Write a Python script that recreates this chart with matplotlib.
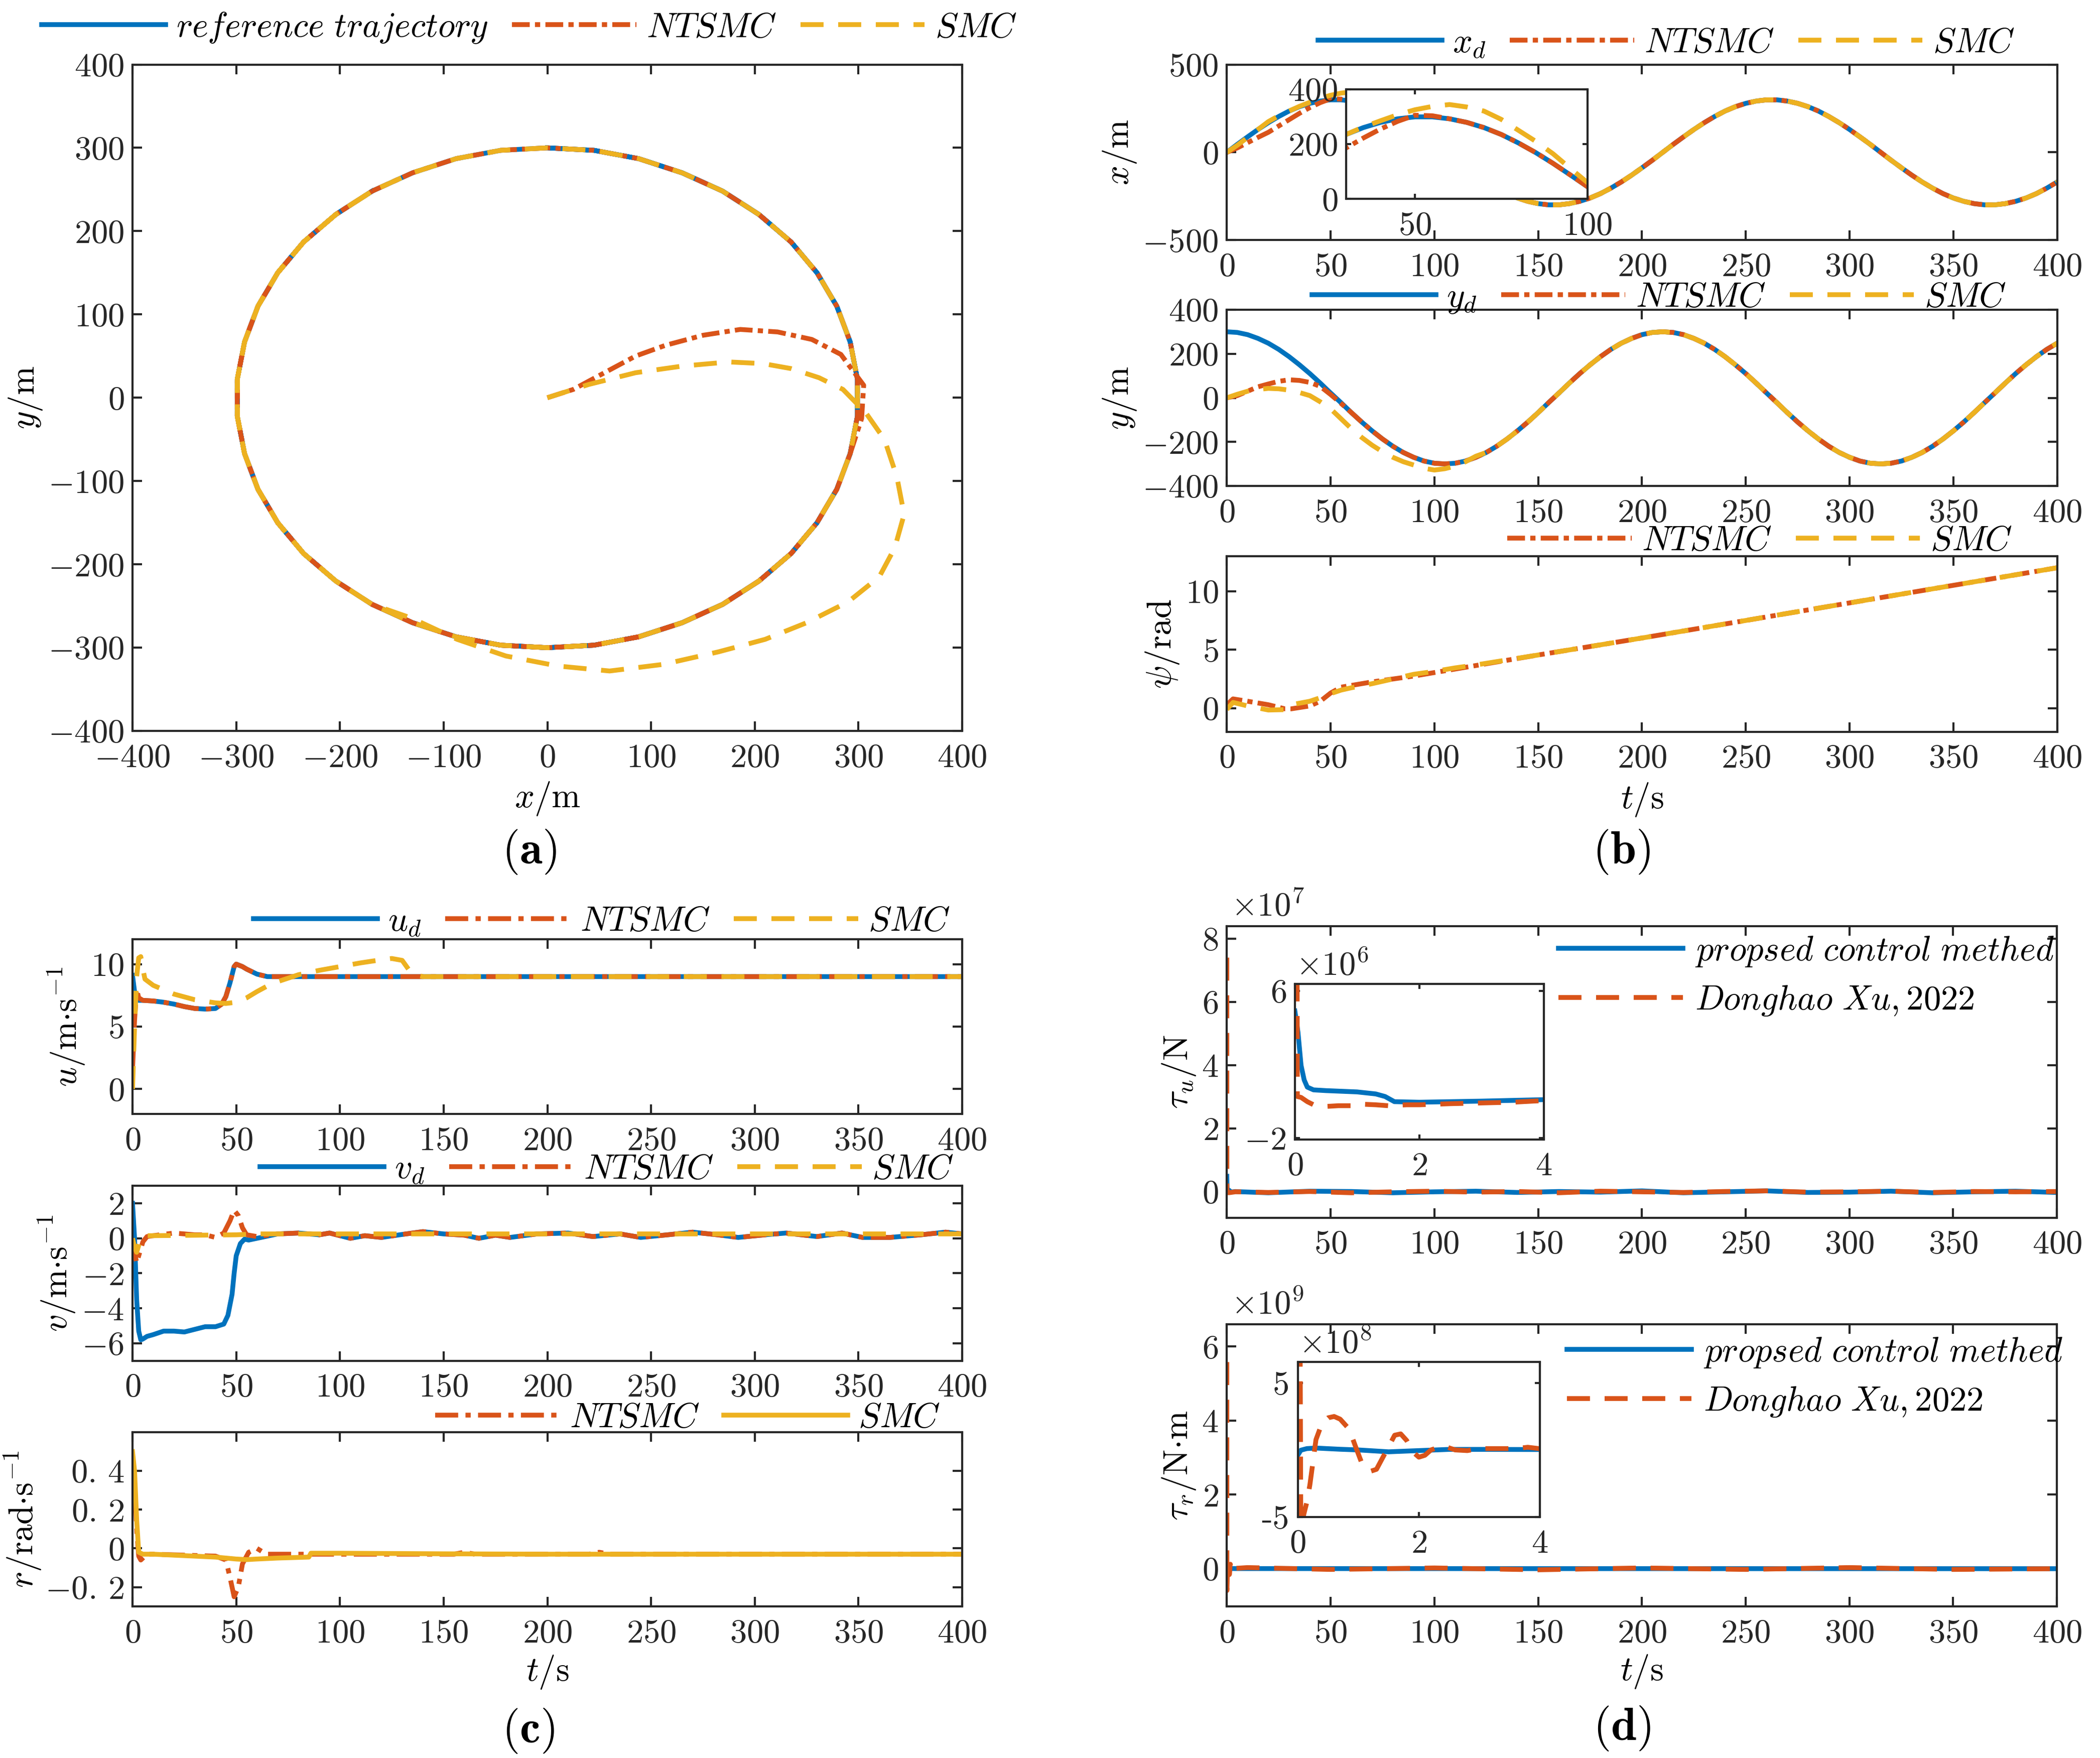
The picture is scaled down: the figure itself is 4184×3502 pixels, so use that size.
import numpy as np
import matplotlib
matplotlib.use('Agg')
import matplotlib.pyplot as plt
from matplotlib.ticker import FuncFormatter
from matplotlib.lines import Line2D

plt.rcParams['font.family'] = 'serif'
plt.rcParams['font.serif'] = ['cmr10']
plt.rcParams['mathtext.fontset'] = 'cm'
plt.rcParams['axes.formatter.use_mathtext'] = True
plt.rcParams['lines.scale_dashes'] = False
plt.rcParams['font.size'] = 16

BLUE, ORANGE, YELLOW = '#0072BD', '#D95319', '#EDB120'
DARK = '#262626'
DASH = (0, (11, 7))
DASHDOT = (0, (8.5, 2.5, 2.5, 2.5))
DASHDOT_C = (0, (11, 3.5, 2.5, 3.5))
LW = 2.3
FS = 16.5

# ---------------- trajectory data, read every 5 s ----------------
t5 = list(range(0, 405, 5))
x_d = [0, 45, 88, 130, 169, 204, 235, 260, 279, 292, 299, 299, 292, 279, 260, 235, 204, 169, 130, 88, 45,
       0, -45, -88, -130, -169, -204, -235, -260, -279, -292, -299, -299, -292, -279, -260, -235, -204, -169, -130, -88, -45,
       0, 45, 88, 130, 169, 204, 235, 260, 279, 292, 299, 299, 292, 279, 260, 235, 204, 169, 130, 88, 45,
       0, -45, -88, -130, -169, -204, -235, -260, -279, -292, -299, -299, -292, -279, -260, -235, -204, -169]
y_d = [300, 297, 287, 270, 248, 220, 187, 150, 110, 67, 22, -22, -67, -110, -150, -187, -220, -248, -270, -287, -297,
       -300, -297, -287, -270, -248, -220, -187, -150, -110, -67, -22, 22, 67, 110, 150, 187, 220, 248, 270, 287, 297,
       300, 297, 287, 270, 248, 220, 187, 150, 110, 67, 22, -22, -67, -110, -150, -187, -220, -248, -270, -287, -297,
       -300, -297, -287, -270, -248, -220, -187, -150, -110, -67, -22, 22, 67, 110, 150, 187, 220, 248]

# NTSMC transient up to t=55 s, then on the reference
x_nt = [0, 25, 55, 85, 114, 150, 186, 222, 255, 283, 305, 303] + x_d[12:]
y_nt = [0, 10, 30, 50, 63, 75, 82, 79, 70, 52, 15, -25] + y_d[12:]
# SMC transient up to t=125 s, then on the reference
x_smc = [0, 40, 85, 130, 175, 208, 235, 262, 285, 307, 325, 337, 344, 335, 320, 290, 250, 210, 165, 112,
         60, 10, -40, -87, -130, -169] + x_d[26:]
y_smc = [0, 16, 30, 38, 43, 41, 35, 24, 10, -18, -50, -95, -140, -180, -215, -245, -270, -290, -305, -320,
         -328, -322, -310, -290, -265, -248] + y_d[26:]

# heading
psi_t = [0, 3, 10, 20, 28, 31, 40, 45, 50, 55, 60, 70, 80, 90, 100, 110, 120, 150, 200, 250, 300, 350, 400]
psi_nt = [0.3, 0.8, 0.6, 0.3, -0.05, -0.05, 0.2, 0.6, 1.3, 1.8, 1.95, 2.25, 2.5, 2.75, 3.05, 3.35, 3.65,
          4.55, 6.0, 7.5, 9.0, 10.5, 12.0]
psi_smc = [-0.1, 0.5, 0.2, -0.15, -0.12, 0.3, 0.6, 0.9, 1.25, 1.55, 1.75, 2.1, 2.5, 2.9, 3.15, 3.45, 3.7,
           4.55, 6.0, 7.5, 9.0, 10.5, 12.0]

# surge speed u
u_t = [0, 1, 2, 3, 5, 10, 15, 20, 25, 30, 35, 40, 43, 45, 47, 49, 50, 53, 55, 60, 65, 70, 400]
u_d = [9.1, 7.8, 7.2, 7.1, 7.1, 7.05, 6.95, 6.8, 6.6, 6.45, 6.4, 6.45, 6.8, 7.4, 8.5, 9.8, 10.0, 9.8, 9.6,
       9.2, 9.0, 9.0, 9.0]
u_nt = [1.5, 5.5, 8.0, 7.3, 7.1, 7.05, 6.95, 6.8, 6.6, 6.45, 6.4, 6.45, 6.8, 7.4, 8.5, 9.8, 10.0, 9.8, 9.6,
        9.2, 9.0, 9.0, 9.0]
u_smc_t = [0, 1, 2, 3, 4, 5, 6, 10, 20, 30, 40, 45, 50, 55, 60, 65, 70, 80, 90, 100, 110, 120, 125, 130,
           133, 135, 140, 400]
u_smc = [0.0, 5.0, 9.0, 10.5, 10.6, 9.6, 8.8, 8.3, 7.6, 7.15, 6.9, 6.85, 6.95, 7.3, 7.8, 8.25, 8.6, 9.15,
         9.5, 9.8, 10.1, 10.35, 10.45, 10.3, 9.6, 9.2, 9.0, 9.0]

# sway speed v
v_t = [0, 1, 2, 3, 4, 5, 7, 10, 15, 20, 25, 30, 35, 40, 44, 46, 48, 49, 50, 52, 54, 56, 60, 70, 80, 90, 95,
       105, 112, 120, 130, 140, 150, 160, 167, 175, 182, 195, 210, 222, 235, 245, 258, 270, 282, 292, 305,
       315, 330, 342, 352, 365, 380, 392, 400]
v_d = [2.0, 0.0, -3.5, -5.3, -5.8, -5.75, -5.6, -5.5, -5.3, -5.3, -5.35, -5.2, -5.05, -5.05, -4.9, -4.4,
       -3.2, -2.0, -1.0, -0.3, -0.05, -0.1, 0.0, 0.25, 0.3, 0.2, 0.3, 0.0, 0.15, 0.05, 0.22, 0.38, 0.25,
       0.18, 0.0, 0.18, 0.05, 0.25, 0.3, 0.1, 0.25, 0.05, 0.2, 0.35, 0.2, 0.05, 0.2, 0.3, 0.1, 0.3, 0.05,
       0.05, 0.2, 0.35, 0.25]
v_nt_t = [0, 1, 2, 3, 5, 7, 10, 20, 30, 35, 40, 44, 47, 49, 51, 53, 55, 60] + v_t[23:]
v_nt = [0.0, -0.8, -1.4, -1.0, -0.2, 0.1, 0.15, 0.3, 0.2, 0.2, 0.05, 0.3, 1.0, 1.6, 1.3, 0.6, 0.2,
        0.1] + v_d[23:]
v_smc_t = [0, 1, 2, 3, 4, 5, 10, 50, 60, 400]
v_smc = [0.0, -0.5, -0.8, -0.4, 0.05, 0.15, 0.15, 0.2, 0.25, 0.25]

# yaw rate r
r_smc_t = [0, 1, 2, 3, 5, 10, 20, 30, 40, 50, 55, 60, 70, 85, 86, 100, 150, 200, 300, 400]
r_smc = [0.5, 0.4, 0.15, -0.02, -0.03, -0.03, -0.035, -0.04, -0.045, -0.055, -0.058, -0.055, -0.05,
         -0.045, -0.025, -0.025, -0.028, -0.03, -0.03, -0.03]
r_nt_t = [0, 1, 2, 3, 4, 5, 7, 10, 40, 45, 47, 49, 51, 53, 56, 60, 63, 65, 100, 155, 160, 165, 220, 225,
          230, 400]
r_nt = [0.48, 0.35, 0.1, -0.04, -0.06, -0.05, -0.03, -0.03, -0.04, -0.06, -0.15, -0.25, -0.2, -0.08,
        -0.02, 0.0, -0.02, -0.03, -0.03, -0.03, -0.02, -0.03, -0.03, -0.02, -0.03, -0.03]

# control forces, tau_u in 1e6 N, tau_r in 1e8 N*m
tail_t = list(range(20, 401, 20))
tu_b_t = [0, 0.05, 0.1, 0.15, 0.2, 0.3, 0.5, 1.0, 1.3, 1.45, 1.6, 2.0, 3.0, 4.0] + tail_t
tu_b = [4.9, 3.75, 1.94, 1.15, 0.76, 0.61, 0.57, 0.5, 0.39, 0.25, -0.03, -0.06, 0.0, 0.08,
        -0.3, 0.2, 0.1, -0.3, 0.0, 0.2, -0.2, 0.1, -0.1, 0.3, -0.3, 0.0, 0.3, -0.2, -0.1, 0.2, -0.3,
        0.0, 0.2, -0.2]
tu_o_t = [0, 0.04, 0.1, 0.2, 0.3, 0.5, 0.7, 0.9, 1.1, 1.3, 1.5, 1.8, 2.0, 2.5, 3.0, 3.5, 4.0] + tail_t
tu_o = [74.0, 0.25, 0.2, -0.03, -0.2, -0.29, -0.25, -0.25, -0.17, -0.2, -0.25, -0.2, -0.2, -0.14, -0.1,
        -0.06, 0.03,
        -0.2, 0.1, -0.3, 0.0, 0.2, -0.1, 0.1, -0.3, 0.2, 0.0, -0.2, 0.1, 0.3, -0.1, 0.0, 0.2, -0.2, 0.1,
        0.0, 0.1]
tr_b_t = [0, 0.05, 0.15, 0.3, 0.7, 1.0, 1.5, 2.0, 2.5, 3.0, 4.0, 400]
tr_b = [-0.4, -0.02, 0.1, 0.14, 0.05, 0.0, -0.14, -0.05, 0.04, 0.04, 0.03, 0.0]
tr_o_t = [0, 0.05, 0.1, 0.15, 0.2, 0.3, 0.4, 0.5, 0.6, 0.7, 0.85, 0.95, 1.05, 1.2, 1.3, 1.4, 1.5, 1.6,
          1.7, 1.8, 1.9, 2.0, 2.1, 2.2, 2.4, 2.6, 2.8, 3.0, 3.3, 3.6, 3.8, 4.0,
          10, 50, 100, 150, 200, 250, 300, 350, 400]
tr_o = [55.8, -5.9, -4.8, -3.9, -2.6, 0.77, 2.0, 2.4, 2.5, 2.3, 1.55, 0.3, -0.9, -1.6, -1.45, -0.6, 0.24,
        1.1, 1.2, 0.7, -0.15, -0.54, -0.4, 0.0, 0.3, 0.0, -0.05, 0.1, 0.1, 0.1, 0.2, 0.09,
        0.3, -0.2, 0.2, -0.3, 0.2, -0.2, 0.3, -0.2, 0.0]

fig = plt.figure(figsize=(4184 / 300, 3502 / 300), dpi=300)


def style(ax, tl=4.5):
    ax.tick_params(direction='in', length=tl, width=1.0, top=True, right=True,
                   labelsize=16, colors=DARK, labelcolor=DARK)
    ax.tick_params(axis='x', pad=6)
    ax.tick_params(axis='y', pad=4)
    for s in ax.spines.values():
        s.set_linewidth(1.0)
        s.set_color(DARK)


def top_legend(handles, labels, xy):
    fig.legend(handles, labels, loc='center', bbox_to_anchor=xy, ncol=len(labels), frameon=False,
               handlelength=3.6, handletextpad=0.3, columnspacing=0.7, borderpad=0, fontsize=FS)


def tline(ax, t, v, c, ls='-'):
    return ax.plot(t, v, color=c, lw=LW, linestyle=ls)[0]


def panel_tag(x, y, s):
    fig.text(x, y, r'$\mathbf{(' + s + ')}$', ha='center', va='center', fontsize=22, color='black')


tgrid = list(range(0, 401, 50))

# ---------------- (a) ----------------
ax = fig.add_axes([0.0631, 0.5842, 0.3951, 0.3791])
h1 = tline(ax, x_d, y_d, BLUE)
h2 = tline(ax, x_nt, y_nt, ORANGE, DASHDOT)
h3 = tline(ax, x_smc, y_smc, YELLOW, DASH)
ax.set_xlim(-400, 400)
ax.set_ylim(-400, 400)
ax.set_xticks(range(-400, 401, 100))
ax.set_yticks(range(-400, 401, 100))
style(ax)
ax.set_ylabel(r'$y/\mathrm{m}$', fontsize=FS, labelpad=2)
fig.text(0.2607, 0.5457, r'$x/\mathrm{m}$', ha='center', va='center', fontsize=FS)
top_legend([h1, h2, h3], [r'$reference\ trajectory$', r'$NTSMC$', r'$SMC$'], (0.252, 0.984))
panel_tag(0.252, 0.5154, 'a')

# ---------------- (b) ----------------
bl, bw = 0.5842, 0.3954
ax = fig.add_axes([bl, 0.8634, bw, 0.0999])
h1 = tline(ax, t5, x_d, BLUE)
h2 = tline(ax, t5, x_nt, ORANGE, DASHDOT)
h3 = tline(ax, t5, x_smc, YELLOW, DASH)
ax.set_xlim(0, 400)
ax.set_ylim(-500, 500)
ax.set_xticks(tgrid)
ax.set_yticks([-500, 0, 500])
style(ax)
ax.set_ylabel(r'$x/\mathrm{m}$', fontsize=FS, labelpad=2)
top_legend([h1, h2, h3], [r'$x_d$', r'$NTSMC$', r'$SMC$'], (0.7935, 0.975))

axi = fig.add_axes([0.641, 0.8868, 0.1149, 0.0625])
tline(axi, t5, x_d, BLUE)
tline(axi, t5, x_nt, ORANGE, DASHDOT)
tline(axi, t5, x_smc, YELLOW, DASH)
axi.set_xlim(30, 100)
axi.set_ylim(0, 400)
axi.set_xticks([50, 100])
axi.set_yticks([0, 200, 400])
style(axi, tl=2.5)

ax = fig.add_axes([bl, 0.7236, bw, 0.1002])
h1 = tline(ax, t5, y_d, BLUE)
h2 = tline(ax, t5, y_nt, ORANGE, DASHDOT)
h3 = tline(ax, t5, y_smc, YELLOW, DASH)
ax.set_xlim(0, 400)
ax.set_ylim(-400, 400)
ax.set_xticks(tgrid)
ax.set_yticks([-400, -200, 0, 200, 400])
style(ax)
ax.set_ylabel(r'$y/\mathrm{m}$', fontsize=FS, labelpad=2)
top_legend([h1, h2, h3], [r'$y_d$', r'$NTSMC$', r'$SMC$'], (0.790, 0.830))

ax = fig.add_axes([bl, 0.5838, bw, 0.0999])
h2 = tline(ax, psi_t, psi_nt, ORANGE, DASHDOT)
h3 = tline(ax, psi_t, psi_smc, YELLOW, DASH)
ax.set_xlim(0, 400)
ax.set_ylim(-2, 13)
ax.set_xticks(tgrid)
ax.set_yticks([0, 5, 10])
style(ax)
ax.set_ylabel(r'$\psi/\mathrm{rad}$', fontsize=FS, labelpad=2)
top_legend([h2, h3], [r'$NTSMC$', r'$SMC$'], (0.838, 0.692))
fig.text(bl + bw / 2, 0.545, r'$t/\mathrm{s}$', ha='center', va='center', fontsize=FS)
panel_tag(0.7722, 0.5154, 'b')

# ---------------- (c) ----------------
cl, cw = 0.0631, 0.3951
ax = fig.add_axes([cl, 0.3663, cw, 0.0995])
h1 = tline(ax, u_t, u_d, BLUE)
h2 = tline(ax, u_t, u_nt, ORANGE, DASHDOT_C)
h3 = tline(ax, u_smc_t, u_smc, YELLOW, DASH)
ax.set_xlim(0, 400)
ax.set_ylim(-2, 12)
ax.set_xticks(tgrid)
ax.set_yticks([0, 5, 10])
style(ax)
ax.set_ylabel(r'$u/\mathrm{m{\cdot}s^{-1}}$', fontsize=FS, labelpad=2)
top_legend([h1, h2, h3], [r'$u_d$', r'$NTSMC$', r'$SMC$'], (0.2866, 0.4754))

ax = fig.add_axes([cl, 0.2259, cw, 0.0996])
h1 = tline(ax, v_t, v_d, BLUE)
h2 = tline(ax, v_nt_t, v_nt, ORANGE, DASHDOT_C)
h3 = tline(ax, v_smc_t, v_smc, YELLOW, DASH)
ax.set_xlim(0, 400)
ax.set_ylim(-7, 3)
ax.set_xticks(tgrid)
ax.set_yticks([-6, -4, -2, 0, 2])
style(ax)
ax.set_ylabel(r'$v/\mathrm{m{\cdot}s^{-1}}$', fontsize=FS, labelpad=2)
top_legend([h1, h2, h3], [r'$v_d$', r'$NTSMC$', r'$SMC$'], (0.289, 0.3344))


def r_fmt(v, pos):
    s = f'{v:.1f}'
    if s in ('0.0', '-0.0'):
        return r'$\mathdefault{0}$'
    return r'$\mathdefault{' + s.replace('.', r'.\,') + '}$'


ax = fig.add_axes([cl, 0.0862, cw, 0.0991])
h2 = tline(ax, r_nt_t, r_nt, ORANGE, DASHDOT_C)
h3 = tline(ax, r_smc_t, r_smc, YELLOW)
ax.set_xlim(0, 400)
ax.set_ylim(-0.3, 0.6)
ax.set_xticks(tgrid)
ax.set_yticks([-0.2, 0, 0.2, 0.4])
ax.yaxis.set_major_formatter(FuncFormatter(r_fmt))
style(ax)
ax.set_ylabel(r'$r/\mathrm{rad{\cdot}s^{-1}}$', fontsize=FS, labelpad=1)
top_legend([h2, h3], [r'$NTSMC$', r'$SMC$'], (0.3274, 0.1933))
fig.text(cl + cw / 2, 0.0488, r'$t/\mathrm{s}$', ha='center', va='center', fontsize=FS)
panel_tag(0.2515, 0.0154, 'c')

# ---------------- (d) ----------------
dl, dw = 0.5842, 0.3953
d_labels = [r'$propsed\ control\ methed$', r'$Donghao\ Xu, 2022$']


def d_legend(x, y):
    hb = Line2D([], [], color=BLUE, lw=LW)
    ho = Line2D([], [], color=ORANGE, lw=LW, linestyle=DASH)
    fig.legend([hb, ho], d_labels, loc='center left', bbox_to_anchor=(x, y), frameon=False,
               handlelength=3.6, handletextpad=0.35, labelspacing=0.45, borderpad=0, fontsize=FS)


def offset(ax, txt):
    ax.text(0.005, 1.012, txt, transform=ax.transAxes, ha='left', va='bottom', fontsize=16, color=DARK)


ax = fig.add_axes([dl, 0.3073, dw, 0.1658])
tline(ax, tu_b_t, np.array(tu_b) / 10, BLUE)
tline(ax, tu_o_t, np.array(tu_o) / 10, ORANGE, DASH)
ax.set_xlim(0, 400)
ax.set_ylim(-0.82, 8.39)
ax.set_xticks(tgrid)
ax.set_yticks([0, 2, 4, 6, 8])
style(ax)
offset(ax, r'$\times10^{7}$')
ax.set_ylabel(r'$\tau_u/\mathrm{N}$', fontsize=FS, labelpad=2)
d_legend(0.7340, 0.4448)

axi = fig.add_axes([0.6166, 0.3519, 0.1185, 0.0884])
tline(axi, tu_b_t, tu_b, BLUE)
tline(axi, tu_o_t, tu_o, ORANGE, DASH)
axi.set_xlim(0, 4)
axi.set_ylim(-2.08, 6.37)
axi.set_xticks([0, 2, 4])
axi.set_yticks([-2, 6])
style(axi, tl=2.5)
offset(axi, r'$\times10^{6}$')

ax = fig.add_axes([dl, 0.0862, dw, 0.1605])
tline(ax, tr_b_t, np.array(tr_b) / 10, BLUE)
tline(ax, tr_o_t, np.array(tr_o) / 10, ORANGE, DASH)
ax.set_xlim(0, 400)
ax.set_ylim(-1.02, 6.6)
ax.set_xticks(tgrid)
ax.set_yticks([0, 2, 4, 6])
style(ax)
offset(ax, r'$\times10^{9}$')
ax.set_ylabel(r'$\tau_r/\mathrm{N{\cdot}m}$', fontsize=FS, labelpad=2)
d_legend(0.7380, 0.2166)

axi = fig.add_axes([0.618, 0.1372, 0.1153, 0.0881])
tline(axi, tr_b_t, tr_b, BLUE)
tline(axi, tr_o_t, tr_o, ORANGE, DASH)
axi.set_xlim(0, 4)
axi.set_ylim(-5, 6.58)
axi.set_xticks([0, 2, 4])
axi.set_yticks([-5, 5])
axi.yaxis.set_major_formatter(FuncFormatter(lambda v, p: '%d' % round(v)))
style(axi, tl=2.5)
offset(axi, r'$\times10^{8}$')

fig.text(dl + dw / 2, 0.049, r'$t/\mathrm{s}$', ha='center', va='center', fontsize=FS)
panel_tag(0.7723, 0.0169, 'd')

fig.savefig('out.png', dpi=300)
